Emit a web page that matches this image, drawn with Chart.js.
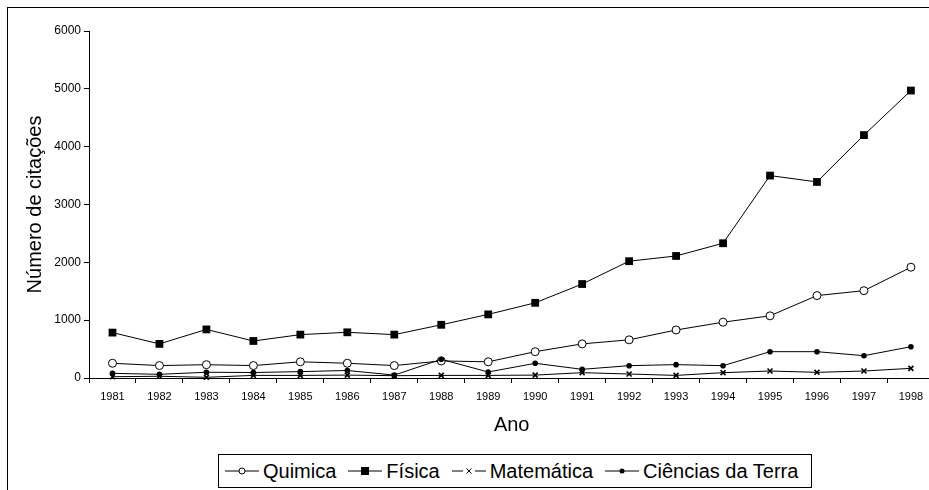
<!DOCTYPE html>
<html>
<head>
<meta charset="utf-8">
<script src="https://cdn.jsdelivr.net/npm/chart.js@4"></script>
<style>
  body {
    margin: 0;
    width: 929px;
    height: 490px;
    overflow: hidden;
    background: #fff;
    font-family: "Liberation Sans", Arial, sans-serif;
  }
  #frame {
    position: absolute;
    left: 7px;
    top: 7px;
    width: 960px;
    height: 520px;
    border: 1px solid #000;
  }
  #chartBox {
    position: absolute;
    left: 0;
    top: 0;
  }
  #legend {
    position: absolute;
    left: 218px;
    top: 454px;
    width: 586px;
    height: 32px;
    border: 1px solid #000;
    background: #fff;
    display: flex;
    align-items: center;
    padding-left: 6px;
    box-sizing: content-box;
    font-size: 20px;
    color: #000;
  }
  .item {
    display: flex;
    align-items: center;
    margin-right: 12px;
  }
  .item svg {
    margin-right: 4px;
  }
</style>
</head>
<body>
<div id="frame"></div>
<div id="chartBox">
  <canvas id="citChart" width="940" height="490"></canvas>
</div>
<div id="legend"></div>

<script>
const years = ["1981", "1982", "1983", "1984", "1985", "1986", "1987", "1988", "1989",
  "1990", "1991", "1992", "1993", "1994", "1995", "1996", "1997", "1998"];

const quimica = [255, 215, 230, 215, 280, 255, 215, 295, 280, 455, 590, 660, 830, 965, 1075, 1425, 1510, 1915];
const fisica = [785, 590, 840, 640, 750, 790, 750, 920, 1100, 1300, 1625, 2020, 2110, 2330, 3500, 3390, 4200, 4970];
const matematica = [22, 30, 12, 45, 45, 50, 40, 45, 45, 50, 92, 69, 45, 92, 121, 98, 121, 167];
const cienciasTerra = [80, 64, 99, 95, 110, 130, 50, 323, 104, 254, 150, 213, 231, 213, 455, 455, 386, 541];

const seriesNames = ["Quimica", "Física", "Matemática", "Ciências da Terra"];
const yTicks = [0, 1000, 2000, 3000, 4000, 5000, 6000];

const yTitle = "Número de citações";
const xTitle = "Ano";

document.addEventListener("DOMContentLoaded", function () {
  const FONT = "'Liberation Sans', Arial, sans-serif";

  // legend symbols, line with the marker in the middle
  const symbols = [
    `<line x1="0" y1="7" x2="34" y2="7" stroke="#000"/><circle cx="17" cy="7" r="3" fill="#fff" stroke="#000"/>`,
    `<line x1="0" y1="7" x2="34" y2="7" stroke="#000"/><rect x="13" y="3" width="8" height="8" fill="#000"/>`,
    `<line x1="0" y1="7" x2="11" y2="7" stroke="#000"/><line x1="23" y1="7" x2="34" y2="7" stroke="#000"/>` +
      `<path d="M14.5 4.5 L19.5 9.5 M19.5 4.5 L14.5 9.5" stroke="#000"/>`,
    `<line x1="0" y1="7" x2="34" y2="7" stroke="#000"/><circle cx="17" cy="7" r="2.5" fill="#000"/>`,
  ];

  document.getElementById("legend").innerHTML = seriesNames
    .map(
      (name, i) =>
        `<div class="item"><svg width="34" height="14">${symbols[i]}</svg><span>${name}</span></div>`
    )
    .join("");

  const citChart = document.getElementById("citChart");

  new Chart(citChart, {
    type: "line",
    data: {
      labels: years,
      datasets: [
        {
          label: seriesNames[0],
          data: quimica,
          borderColor: "#000",
          borderWidth: 1,
          pointStyle: "circle",
          pointRadius: 4,
          pointBackgroundColor: "#fff",
          pointBorderColor: "#000",
          pointBorderWidth: 1,
          order: 4,
          clip: false,
        },
        {
          label: seriesNames[1],
          data: fisica,
          borderColor: "#000",
          borderWidth: 1,
          pointStyle: "rect",
          pointRadius: 5.5,
          pointBackgroundColor: "#000",
          pointBorderColor: "#000",
          pointBorderWidth: 0,
          order: 3,
          clip: false,
        },
        {
          label: seriesNames[2],
          data: matematica,
          borderColor: "#000",
          borderWidth: 1,
          pointStyle: "crossRot",
          pointRadius: 3.5,
          pointBorderColor: "#000",
          pointBorderWidth: 1.6,
          order: 2,
          clip: false,
        },
        {
          label: seriesNames[3],
          data: cienciasTerra,
          borderColor: "#000",
          borderWidth: 1,
          pointStyle: "circle",
          pointRadius: 2.8,
          pointBackgroundColor: "#000",
          pointBorderColor: "#000",
          pointBorderWidth: 0,
          order: 1,
          clip: false,
        },
      ],
    },
    options: {
      responsive: false,
      animation: false,
      layout: {
        padding: { top: 31, right: 3, bottom: 0, left: 0 },
      },
      scales: {
        x: {
          offset: true,
          grid: {
            offset: true,
            drawOnChartArea: false,
            color: "#000",
            tickLength: 5,
          },
          border: { color: "#000", width: 1 },
          ticks: {
            color: "#000",
            padding: 7,
            maxRotation: 0,
            autoSkip: false,
            font: { family: FONT, size: 11 },
          },
          title: {
            display: true,
            text: xTitle,
            color: "#000",
            padding: { top: 0, bottom: 53 },
            font: { family: FONT, size: 20 },
          },
          afterFit: function (scale) {
            scale.height = 112;
          },
        },
        y: {
          min: 0,
          max: 6000,
          afterBuildTicks: function (scale) {
            scale.ticks = yTicks.map((v) => ({ value: v }));
          },
          grid: {
            drawOnChartArea: false,
            color: "#000",
            tickLength: 5,
          },
          border: { color: "#000", width: 1 },
          ticks: {
            color: "#000",
            padding: 3,
            font: { family: FONT, size: 12 },
            callback: function (value) {
              return String(value);
            },
          },
          title: {
            display: true,
            text: yTitle,
            color: "#000",
            padding: { top: 23, bottom: 0 },
            font: { family: FONT, size: 20 },
          },
          afterFit: function (scale) {
            scale.width = 89;
          },
        },
      },
      plugins: {
        legend: { display: false },
        tooltip: { enabled: false },
      },
    },
  });
});
</script>
</body>
</html>
